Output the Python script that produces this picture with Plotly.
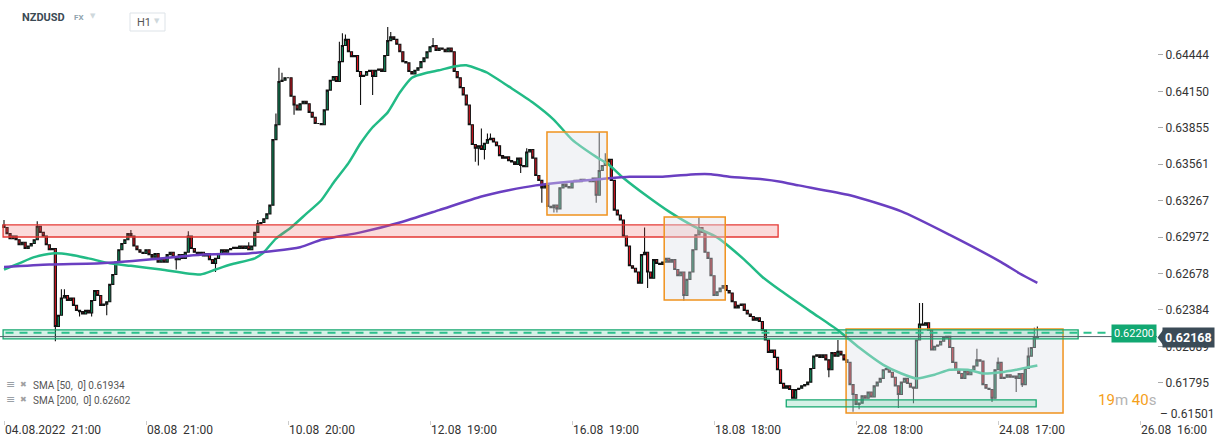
import plotly.graph_objects as go

# ---------------- data ----------------
closes = [
    0.6305, 0.6300, 0.6296, 0.6298, 0.6295, 0.6291, 0.6293, 0.6288, 0.6290, 0.6292,
    0.6295, 0.6306, 0.6301, 0.6298, 0.6291, 0.6287, 0.6288, 0.6225, 0.6234, 0.6248,
    0.6250, 0.6246, 0.6248, 0.6242, 0.6238, 0.6237, 0.6235, 0.6238, 0.6236, 0.6246,
    0.6254, 0.6250, 0.6242, 0.6243, 0.6245, 0.6259, 0.6267, 0.6277, 0.6287, 0.6292,
    0.6295, 0.6300, 0.6298, 0.6290, 0.6287, 0.6285, 0.6284, 0.6287, 0.6283, 0.6281,
    0.6284, 0.6277, 0.6280, 0.6277, 0.6283, 0.6285, 0.6281, 0.6279, 0.6283, 0.6280,
    0.6285, 0.6298, 0.6288, 0.6285, 0.6284, 0.6285, 0.6282, 0.6284, 0.6279, 0.6276,
    0.6280, 0.6284, 0.6287, 0.6285, 0.6287, 0.6288, 0.6289, 0.6288, 0.6290, 0.6288,
    0.6290, 0.6287, 0.6290, 0.6301, 0.6308, 0.6309, 0.6312, 0.6316, 0.6323, 0.6376,
    0.6388, 0.6423, 0.6424, 0.6426, 0.6426, 0.6411, 0.6404, 0.6400, 0.6405, 0.6407,
    0.6405, 0.6398, 0.6394, 0.6389, 0.6389, 0.6388, 0.6400, 0.6416, 0.6424, 0.6427,
    0.6423, 0.6439, 0.6452, 0.6457, 0.6447, 0.6443, 0.6444, 0.6431, 0.6427, 0.6428,
    0.6431, 0.6432, 0.6427, 0.6432, 0.6433, 0.6431, 0.6444, 0.6456, 0.6459, 0.6457,
    0.6453, 0.6447, 0.6439, 0.6438, 0.6431, 0.6429, 0.6432, 0.6434, 0.6439, 0.6442,
    0.6447, 0.6451, 0.6452, 0.6448, 0.6450, 0.6449, 0.6447, 0.6450, 0.6447, 0.6431,
    0.6426, 0.6418, 0.6412, 0.6404, 0.6388, 0.6372, 0.6369, 0.6371, 0.6368, 0.6373,
    0.6376, 0.6377, 0.6374, 0.6371, 0.6363, 0.6361, 0.6362, 0.6359, 0.6358, 0.6356,
    0.6361, 0.6355, 0.6354, 0.6366, 0.6368, 0.6361, 0.6347, 0.6343, 0.6337, 0.6339,
    0.6322, 0.6321, 0.6323, 0.6320, 0.6337, 0.6340, 0.6338, 0.6337, 0.6342, 0.6343,
    0.6342, 0.6344, 0.6343, 0.6343, 0.6342, 0.6345, 0.6331, 0.6351, 0.6355, 0.6358,
    0.6360, 0.6343, 0.6319, 0.6315, 0.6311, 0.6298, 0.6290, 0.6274, 0.6272, 0.6269,
    0.6260, 0.6283, 0.6285, 0.6269, 0.6264, 0.6279, 0.6276, 0.6275, 0.6277, 0.6280,
    0.6277, 0.6279, 0.6271, 0.6266, 0.6269, 0.6250, 0.6263, 0.6269, 0.6287, 0.6299,
    0.6305, 0.6301, 0.6285, 0.6280, 0.6266, 0.6250, 0.6253, 0.6256, 0.6258, 0.6254,
    0.6252, 0.6245, 0.6240, 0.6242, 0.6243, 0.6238, 0.6235, 0.6233, 0.6230, 0.6232,
    0.6229, 0.6222, 0.6214, 0.6204, 0.6206, 0.6200, 0.6190, 0.6179, 0.6175, 0.6177,
    0.6174, 0.6167, 0.6174, 0.6175, 0.6177, 0.6178, 0.6180, 0.6191, 0.6201, 0.6202,
    0.6200, 0.6202, 0.6198, 0.6190, 0.6204, 0.6201, 0.6205, 0.6202, 0.6198, 0.6196,
    0.6178, 0.6170, 0.6162, 0.6163, 0.6169, 0.6167, 0.6172, 0.6168, 0.6177, 0.6180,
    0.6183, 0.6190, 0.6191, 0.6188, 0.6184, 0.6177, 0.6170, 0.6180, 0.6183, 0.6179,
    0.6176, 0.6175, 0.6214, 0.6227, 0.6226, 0.6228, 0.6222, 0.6206, 0.6209, 0.6210,
    0.6213, 0.6216, 0.6217, 0.6208, 0.6196, 0.6190, 0.6187, 0.6183, 0.6189, 0.6186,
    0.6190, 0.6193, 0.6198, 0.6197, 0.6178, 0.6175, 0.6174, 0.6167, 0.6190, 0.6196,
    0.6183, 0.6184, 0.6186, 0.6184, 0.6185, 0.6183, 0.6187, 0.6178, 0.6191, 0.6201,
    0.6208, 0.6216, 0.62168,
]
first_open = 0.6307

wick_highs = {0: 0.6311, 11: 0.6310, 19: 0.6255, 20: 0.6255, 42: 0.6303, 61: 0.6302,
              81: 0.6293, 84: 0.6311, 90: 0.6397, 91: 0.6434, 92: 0.6430, 111: 0.6455,
              112: 0.6462, 113: 0.6461, 127: 0.6467, 128: 0.6463, 142: 0.6458,
              158: 0.6385, 160: 0.6381, 161: 0.6381, 173: 0.6369, 197: 0.6382,
              199: 0.6365, 212: 0.6305, 230: 0.6313, 276: 0.6214, 303: 0.6244,
              304: 0.6244, 322: 0.6207, 329: 0.6200, 339: 0.6208, 341: 0.6224,
              342: 0.6225}
wick_lows = {17: 0.6213, 25: 0.6233, 29: 0.6233, 34: 0.6234, 57: 0.6271, 70: 0.6269,
             96: 0.6396, 118: 0.6404, 122: 0.6412, 156: 0.6358, 157: 0.6355,
             159: 0.6360, 171: 0.6349, 178: 0.6325, 182: 0.6317, 183: 0.6317,
             196: 0.6325, 213: 0.6256, 225: 0.6246, 273: 0.6184, 281: 0.6156,
             283: 0.6158, 296: 0.6159, 301: 0.6163, 327: 0.6164, 335: 0.6172,
             337: 0.6176}

sma50_idx = [0, 5, 10, 16, 22, 28, 35, 42, 52, 65, 70, 75, 83, 86, 90, 95, 100, 105,
             109, 114, 118, 122, 127, 131, 135, 140, 144, 149, 153, 158, 160, 167, 175,
             182, 188, 196, 200, 205, 213, 220, 229, 236, 245, 251, 257, 267, 276, 283,
             291, 297, 302, 308, 313, 319, 324, 330, 335, 342]
sma50_val = [0.6271, 0.6276, 0.6281, 0.6284, 0.6283, 0.6280, 0.6276, 0.6274, 0.6271,
             0.6267, 0.6271, 0.6275, 0.6280, 0.6285, 0.6296, 0.6305, 0.6316, 0.6327,
             0.6341, 0.6357, 0.6373, 0.6386, 0.6398, 0.6414, 0.6426, 0.6430, 0.6432,
             0.6435, 0.6436, 0.6432, 0.6430, 0.6419, 0.6406, 0.6392, 0.6376, 0.6362,
             0.6356, 0.6345, 0.6330, 0.6318, 0.6305, 0.6297, 0.6279, 0.6265, 0.6254,
             0.6237, 0.6222, 0.6208, 0.6194, 0.6187, 0.6183, 0.6186, 0.6190, 0.6190,
             0.6187, 0.6188, 0.6190, 0.61934]

sma200_idx = [0, 15, 32, 48, 65, 81, 98, 105, 118, 131, 144, 158, 167, 176, 187, 197,
              207, 218, 229, 234, 240, 251, 257, 263, 280, 297, 313, 330, 336, 342]
sma200_val = [0.6273, 0.6275, 0.6276, 0.6279, 0.6283, 0.6284, 0.6289, 0.6295, 0.6301,
              0.6309, 0.6319, 0.6330, 0.6335, 0.6339, 0.6342, 0.6344, 0.6346, 0.6346,
              0.6348, 0.6348, 0.6346, 0.6344, 0.6342, 0.6339, 0.6331, 0.6318, 0.6299,
              0.6277, 0.6268, 0.62602]

ytick_vals = [0.64444, 0.64150, 0.63855, 0.63561, 0.63267, 0.62972, 0.62678, 0.62384,
              0.62089, 0.61795]
ytick_bottom = 0.61501
xtick_idx = [0, 47, 94, 141, 188, 235, 282, 329, 376]
xtick_text = ["04.08.2022\u00a0 21:00", "08.08\u00a0 21:00", "10.08\u00a0 20:00",
              "12.08\u00a0 19:00", "16.08\u00a0 19:00", "18.08\u00a0 18:00",
              "22.08\u00a0 18:00", "24.08\u00a0 17:00", "26.08\u00a0 16:00"]

# zones (bar index range, price range)
resistance_zone = dict(x0=-0.3, x1=256.2, y0=0.62973, y1=0.63070)
support_zone = dict(x0=-0.3, x1=355.5, y0=0.62149, y1=0.62222)
bottom_zone = dict(x0=258.9, x1=341.6, y0=0.61600, y1=0.61656)
boxes = [dict(x0=179.7, x1=199.6, y0=0.63151, y1=0.63821),
         dict(x0=218.5, x1=238.7, y0=0.62464, y1=0.63135),
         dict(x0=278.7, x1=350.5, y0=0.61551, y1=0.62230)]
alert_level = 0.62200
last_price = 0.62168
sma50_last = 0.61934
sma200_last = 0.62602

# ---------------- build ----------------
n = len(closes)
xs = list(range(n))
opens = [first_open] + closes[:-1]
highs = [max(o, c) for o, c in zip(opens, closes)]
lows = [min(o, c) for o, c in zip(opens, closes)]
for k, v in wick_highs.items():
    highs[k] = max(highs[k], v)
for k, v in wick_lows.items():
    lows[k] = min(lows[k], v)

X0, X1 = -1.324, 381.6
Y0, Y1 = 0.61494, 0.64888
PW, PH = 1157, 420


def px(xp):
    return xp / PW


def py(yp):
    return 1 - yp / PH


fig = go.Figure()
fig.add_trace(go.Candlestick(
    x=xs, open=opens, high=highs, low=lows, close=closes,
    increasing=dict(line=dict(color="#111111", width=1.1), fillcolor="#0f935f"),
    decreasing=dict(line=dict(color="#111111", width=1.1), fillcolor="#dc1420"),
    hoverinfo="skip", showlegend=False, whiskerwidth=0,
))
fig.add_trace(go.Scatter(x=sma50_idx, y=sma50_val, mode="lines",
                         line=dict(color="#22bb86", width=2.5, shape="spline", smoothing=0.6),
                         hoverinfo="skip", showlegend=False))
fig.add_trace(go.Scatter(x=sma200_idx, y=sma200_val, mode="lines",
                         line=dict(color="#6a3fc1", width=2.5, shape="spline", smoothing=0.6),
                         hoverinfo="skip", showlegend=False))

shapes = []
shapes.append(dict(type="rect", xref="x", yref="y", layer="above",
                   fillcolor="rgba(238,100,100,0.24)", line=dict(color="#e53935", width=1.3),
                   **resistance_zone))
for b in boxes:
    shapes.append(dict(type="rect", xref="x", yref="y", layer="above",
                       fillcolor="rgba(222,226,232,0.40)",
                       line=dict(color="#f0921e", width=1.5), **b))
shapes.append(dict(type="rect", xref="x", yref="y", layer="above",
                   fillcolor="rgba(20,175,115,0.18)", line=dict(color="#14a86f", width=1.3),
                   **bottom_zone))
shapes.append(dict(type="rect", xref="x", yref="y", layer="above",
                   fillcolor="rgba(20,175,115,0.18)", line=dict(color="#14a86f", width=1.3),
                   **support_zone))
# current price line
shapes.append(dict(type="line", xref="x", yref="y", layer="above",
                   x0=X0, x1=X1, y0=last_price, y1=last_price,
                   line=dict(color="#55606a", width=1)))
# alert dashed line
shapes.append(dict(type="line", xref="x", yref="y", layer="above",
                   x0=0.5, x1=365.3, y0=alert_level, y1=alert_level,
                   line=dict(color="#2cc08c", width=2, dash="8px,6px")))
# arrow of last price tag
shapes.append(dict(type="path", xref="paper", yref="paper", layer="above",
                   path=f"M {px(1157.5)},{py(337.5)} L {px(1163)},{py(330)} L {px(1163)},{py(345)} Z",
                   fillcolor="#3b4b57", line=dict(width=0)))
# H1 box
shapes.append(dict(type="rect", xref="paper", yref="paper", layer="above",
                   x0=px(130), x1=px(165), y0=py(31), y1=py(13),
                   fillcolor="white", line=dict(color="#dde3e8", width=1)))

ann = []
FONT = "Roboto, Arial, sans-serif"
for i, t in zip(xtick_idx, xtick_text):
    ann.append(dict(x=i, xref="x", y=0, yref="paper", yanchor="top", xanchor="left",
                    yshift=-1, xshift=-1, text=t, showarrow=False,
                    font=dict(family=FONT, size=12, color="#333333")))
ann += [
    dict(x=px(1158), y=py(414), xref="paper", yref="paper", xanchor="left", yanchor="middle",
         text=f"\u2013 {ytick_bottom:.5f}", showarrow=False,
         font=dict(family=FONT, size=12, color="#333333")),
    dict(x=px(20), y=py(18), xref="paper", yref="paper", xanchor="left", yanchor="middle",
         text="<b>NZDUSD</b>", showarrow=False, font=dict(family=FONT, size=11, color="#3b4a54")),
    dict(x=px(72), y=py(18), xref="paper", yref="paper", xanchor="left", yanchor="middle",
         text="<b>FX</b>", showarrow=False, font=dict(family=FONT, size=8, color="#90a4ae")),
    dict(x=px(88), y=py(16), xref="paper", yref="paper", xanchor="left", yanchor="middle",
         text="\u25bc", showarrow=False, font=dict(family="DejaVu Sans", size=7, color="#cfd8dc")),
    dict(x=px(135), y=py(22), xref="paper", yref="paper", xanchor="left", yanchor="middle",
         text="H1", showarrow=False, font=dict(family=FONT, size=11, color="#555555")),
    dict(x=px(152), y=py(21), xref="paper", yref="paper", xanchor="left", yanchor="middle",
         text="\u25bc", showarrow=False, font=dict(family="DejaVu Sans", size=7, color="#cfd8dc")),
    dict(x=px(4), y=py(384), xref="paper", yref="paper", xanchor="left", yanchor="middle",
         text="\u2261", showarrow=False, font=dict(family="DejaVu Sans", size=11, color="#9aa0a6")),
    dict(x=px(18), y=py(384), xref="paper", yref="paper", xanchor="left", yanchor="middle",
         text="\u2716", showarrow=False, font=dict(family="DejaVu Sans", size=8, color="#a0a0a0")),
    dict(x=px(31), y=py(385), xref="paper", yref="paper", xanchor="left", yanchor="middle",
         text=f"SMA [50,\u00a0 0] {sma50_last:.5f}", showarrow=False,
         font=dict(family=FONT, size=10, color="#555555")),
    dict(x=px(4), y=py(399), xref="paper", yref="paper", xanchor="left", yanchor="middle",
         text="\u2261", showarrow=False, font=dict(family="DejaVu Sans", size=11, color="#9aa0a6")),
    dict(x=px(18), y=py(399), xref="paper", yref="paper", xanchor="left", yanchor="middle",
         text="\u2716", showarrow=False, font=dict(family="DejaVu Sans", size=8, color="#a0a0a0")),
    dict(x=px(31), y=py(400), xref="paper", yref="paper", xanchor="left", yanchor="middle",
         text=f"SMA [200,\u00a0 0] {sma200_last:.5f}", showarrow=False,
         font=dict(family=FONT, size=10, color="#555555")),
    dict(x=px(1158), y=py(400), xref="paper", yref="paper", xanchor="right", yanchor="middle",
         text='<span style="color:#f5a01a">19</span><span style="color:#b3b3b3">m </span>'
              '<span style="color:#f5a01a">40</span><span style="color:#b3b3b3">s</span>',
         showarrow=False, font=dict(family=FONT, size=15)),
    dict(x=px(1134), y=py(333), xref="paper", yref="paper", xanchor="center", yanchor="middle",
         text=f"{alert_level:.5f}", showarrow=False, bgcolor="#12a872", borderpad=2,
         font=dict(family=FONT, size=11, color="white")),
    dict(x=px(1188.5), y=py(337.5), xref="paper", yref="paper", xanchor="center", yanchor="middle",
         text=f"<b>{last_price:.5f}</b>", showarrow=False, bgcolor="#3b4b57", borderpad=2,
         font=dict(family=FONT, size=12.5, color="white")),
]

fig.update_layout(
    width=1226, height=445,
    margin=dict(l=0, r=1226 - PW, t=0, b=445 - PH),
    paper_bgcolor="white", plot_bgcolor="white",
    shapes=shapes, annotations=ann, showlegend=False,
    boxgap=0.0,
    xaxis=dict(range=[X0, X1], rangeslider=dict(visible=False), showgrid=False,
               zeroline=False, showline=False, tickvals=xtick_idx, showticklabels=False,
               ticks="outside", ticklen=4, tickcolor="#cccccc"),
    yaxis=dict(range=[Y0, Y1], side="right", showgrid=False, zeroline=False, showline=False,
               tickvals=ytick_vals, ticktext=[f"{v:.5f}" for v in ytick_vals],
               ticks="outside", ticklen=5, tickcolor="#aaaaaa",
               tickfont=dict(family=FONT, size=12, color="#333333")),
    hovermode=False,
)

fig.write_html("out.html", config={"displayModeBar": False},
               post_script="document.body.style.margin='0px';")
